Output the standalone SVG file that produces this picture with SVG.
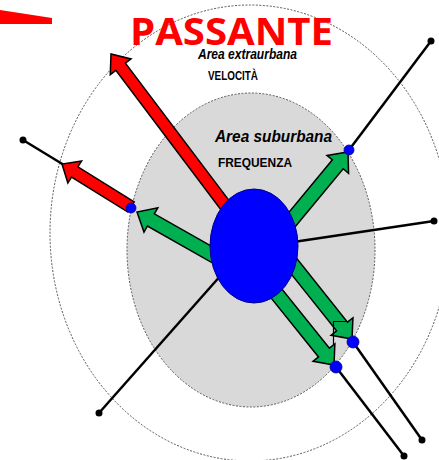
<svg xmlns="http://www.w3.org/2000/svg" width="439" height="460" viewBox="0 0 439 460">
<style>
.zone{stroke:#555;stroke-width:1;stroke-dasharray:2 1.5}
.red{fill:#ff0000;stroke:#000;stroke-width:1.5;stroke-linejoin:miter}
.green{fill:#00b050;stroke:#000;stroke-width:1.5;stroke-linejoin:miter}
.line{stroke:#000;stroke-width:2.5;fill:none}
.end{fill:#000}
.stop{fill:#0000ff;stroke:#00008b;stroke-width:0.8}
.lbl{font-family:"Liberation Sans",Arial,sans-serif;font-weight:bold;fill:#000}
</style>
<rect width="439" height="460" fill="#fff"/>
<g id="area-extraurbana">
<ellipse class="zone" cx="250" cy="233" rx="200" ry="228" fill="none"/>
</g>
<g id="area-suburbana">
<ellipse class="zone" cx="251" cy="250" rx="124" ry="157" fill="#d9d9d9"/>
</g>
<g id="connectors">
<polygon class="red" points="244.79,221.39 125.42,63.16 131.0,58.94 111,54 110.26,74.6 115.84,70.38 235.21,228.61"/>
<line class="line" x1="64" y1="165" x2="23" y2="140"/>
<polygon class="red" points="134.17,201.91 77.9,166.85 81.61,160.9 62,164 67.85,182.98 71.56,177.03 127.83,212.09"/>
<polygon class="green" points="228.46,255.91 154.37,213.81 157.83,207.73 137,212 143.99,232.07 147.45,225.99 221.54,268.09"/>
<line class="line" x1="349" y1="150" x2="431" y2="41"/>
<polygon class="green" points="290.39,232.47 343.18,168.79 348.57,173.25 348,152 327.01,155.39 332.4,159.85 279.61,223.53"/>
<line class="line" x1="280" y1="244" x2="434" y2="221"/>
<line class="line" x1="230" y1="265" x2="99" y2="413"/>
<polygon class="green" points="279.53,259.37 336.55,330.86 331.07,335.23 352,339 352.97,317.75 347.49,322.12 290.47,250.63"/>
<polygon class="green" points="262.55,287.39 318.52,356.93 313.06,361.32 334,365 334.88,343.76 329.42,348.15 273.45,278.61"/>
<polyline points="333.5,345 333.5,321.5 347,321.5" fill="none" stroke="#000" stroke-width="1.2"/>
<line class="line" x1="353" y1="342" x2="422" y2="440"/>
<line class="line" x1="336" y1="367" x2="404" y2="456"/>
</g>
<g id="passante">
<ellipse cx="254" cy="246" rx="44" ry="57" fill="#0000ff" stroke="#00008b" stroke-width="1"/>
</g>
<g id="fermate">
<circle class="stop" cx="131" cy="208" r="5"/>
<circle class="stop" cx="349" cy="150" r="5"/>
<circle class="stop" cx="353" cy="342" r="6"/>
<circle class="stop" cx="336" cy="367" r="6"/>
</g>
<g id="capolinea">
<circle class="end" cx="23" cy="140" r="3.5"/>
<circle class="end" cx="431" cy="41" r="3.5"/>
<circle class="end" cx="434" cy="221" r="3.5"/>
<circle class="end" cx="99" cy="413" r="3.5"/>
<circle class="end" cx="422" cy="440" r="3.5"/>
<circle class="end" cx="404" cy="456" r="3.5"/>
</g>
<g id="freccia">
<polygon points="0,10 52,18 52,24 0,24" fill="#ff0000"/>
</g>
<g id="testi">
<text x="130" y="45" font-family="'Open Sans','Liberation Sans',sans-serif" font-weight="bold" font-size="38" fill="#ff0000" textLength="203" lengthAdjust="spacingAndGlyphs">PASSANTE</text>
<text class="lbl" x="198" y="59" font-size="14.5" font-style="italic" textLength="99" lengthAdjust="spacingAndGlyphs">Area  extraurbana</text>
<text class="lbl" x="208" y="80" font-size="12.5" textLength="50" lengthAdjust="spacingAndGlyphs">VELOCITÀ</text>
<text class="lbl" x="215" y="142" font-size="16" font-style="italic" textLength="117" lengthAdjust="spacingAndGlyphs">Area suburbana</text>
<text class="lbl" x="218" y="167" font-size="13" textLength="74" lengthAdjust="spacingAndGlyphs">FREQUENZA</text>
</g>
</svg>
